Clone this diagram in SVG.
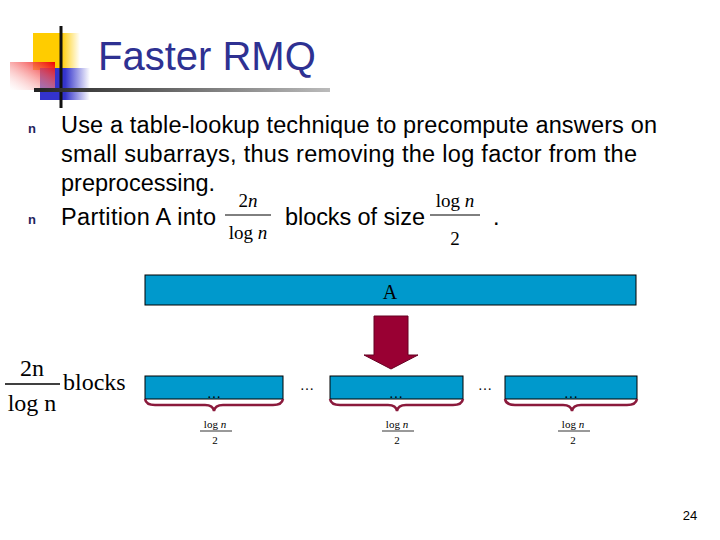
<svg xmlns="http://www.w3.org/2000/svg" width="720" height="540" viewBox="0 0 720 540">
<defs>
<linearGradient id="red" x1="1" y1="0" x2="0" y2="1"><stop offset="0" stop-color="#e00"/><stop offset="1" stop-color="#fff" stop-opacity="0.3"/></linearGradient>
<linearGradient id="blue" x1="0" x2="1"><stop offset="0.5" stop-color="#3333cc"/><stop offset="1" stop-color="#fff"/></linearGradient>
<linearGradient id="yel" x1="0" x2="1"><stop offset="0.6" stop-color="#ffcc00"/><stop offset="1" stop-color="#fff"/></linearGradient>
<linearGradient id="line" x1="0" x2="1"><stop offset="0" stop-color="#222"/><stop offset="1" stop-color="#bbb"/></linearGradient>
<style>
.t{font-family:"Liberation Sans",Arial,sans-serif;font-size:23.5px;fill:#000}
.m{font-family:"Liberation Serif","Times New Roman",serif;fill:#000}
.blk{fill:#0099cc;stroke:#000;stroke-width:1}
.br{fill:none;stroke:#8b1a3c;stroke-width:2.5}
.bul{font-family:"Liberation Sans",sans-serif;font-size:13px;font-weight:bold;fill:#1f1f5c}
</style>
</defs>
<g id="deco">
<rect x="33" y="33" width="47" height="37" fill="url(#yel)"/>
<rect x="40" y="68" width="50" height="32" fill="url(#blue)"/>
<rect x="10" y="62" width="45" height="28" fill="url(#red)"/>
<line x1="61" y1="26" x2="61" y2="108" stroke="#111" stroke-width="3"/>
<rect x="34" y="88" width="296" height="4" fill="url(#line)"/>
</g>
<text x="98" y="70" style="font-family:'Liberation Sans',sans-serif;font-size:40px;fill:#2e3192">Faster RMQ</text>
<g id="text">
<text x="28" y="133" class="bul">n</text>
<text x="61" y="133" class="t" textLength="596">Use a table-lookup technique to precompute answers on</text>
<text x="61" y="162" class="t" textLength="576">small subarrays, thus removing the log factor from the</text>
<text x="61" y="191" class="t">preprocessing.</text>
<text x="28" y="224" class="bul">n</text>
<text x="61" y="225" class="t" textLength="155">Partition A into</text>
<text x="248" y="207" class="m" font-size="19" text-anchor="middle">2<tspan font-style="italic">n</tspan></text>
<line x1="225" y1="215" x2="271" y2="215" stroke="#000"/>
<text x="248" y="239" class="m" font-size="19" text-anchor="middle">log <tspan font-style="italic">n</tspan></text>
<text x="285" y="225" class="t" textLength="140">blocks of size</text>
<text x="455" y="207" class="m" font-size="19" text-anchor="middle">log <tspan font-style="italic">n</tspan></text>
<line x1="430" y1="215" x2="480" y2="215" stroke="#000"/>
<text x="455" y="245" class="m" font-size="19" text-anchor="middle">2</text>
<text x="493" y="225" class="t">.</text>
</g>
<g id="A"><rect x="145" y="275" width="491" height="30" class="blk"/><text x="390" y="299" class="m" font-size="20" text-anchor="middle">A</text></g>
<g id="arrow"><polygon points="374,316 408,316 408,355 418,355 391,369 364,355 374,355" fill="#990033" stroke="#660022"/></g>
<g id="left">
<text x="32" y="376" class="m" font-size="24" text-anchor="middle">2n</text>
<line x1="5" y1="384" x2="60" y2="384" stroke="#000" stroke-width="1.5"/>
<text x="32" y="411" class="m" font-size="24" text-anchor="middle">log n</text>
<text x="63" y="390" class="m" font-size="24">blocks</text>
</g>
<g id="b1"><rect x="145" y="376" width="138" height="23" class="blk"/><text x="214" y="398" class="m" font-size="14" text-anchor="middle">…</text></g>
<g id="b2"><rect x="330" y="376" width="133" height="23" class="blk"/><text x="396" y="398" class="m" font-size="14" text-anchor="middle">…</text></g>
<g id="b3"><rect x="505" y="376" width="132" height="23" class="blk"/><text x="571" y="398" class="m" font-size="14" text-anchor="middle">…</text></g>
<text x="307" y="390" class="m" font-size="14" text-anchor="middle">…</text>
<text x="485" y="390" class="m" font-size="14" text-anchor="middle">…</text>
<g id="braces">
<path class="br" d="M145,399 Q146,405 155,405 L205,405 Q213,405 214,411 Q215,405 223,405 L273,405 Q282,405 283,399"/>
<path class="br" d="M330,399 Q331,405 340,405 L388,405 Q396,405 397,411 Q398,405 406,405 L453,405 Q462,405 463,399"/>
<path class="br" d="M505,399 Q506,405 515,405 L563,405 Q571,405 572,411 Q573,405 581,405 L627,405 Q636,405 637,399"/>
</g>
<g id="labels">
<g class="m" font-size="11" text-anchor="middle">
<text x="215" y="428">log <tspan font-style="italic">n</tspan></text><line x1="200" y1="431" x2="232" y2="431" stroke="#000" stroke-width="0.8"/><text x="215" y="444">2</text>
<text x="397" y="428">log <tspan font-style="italic">n</tspan></text><line x1="382" y1="431" x2="414" y2="431" stroke="#000" stroke-width="0.8"/><text x="397" y="444">2</text>
<text x="573" y="428">log <tspan font-style="italic">n</tspan></text><line x1="558" y1="431" x2="590" y2="431" stroke="#000" stroke-width="0.8"/><text x="573" y="444">2</text>
</g>
</g>
<text x="690" y="520" style="font-family:'Liberation Sans',sans-serif;font-size:13px" text-anchor="middle">24</text>
</svg>
